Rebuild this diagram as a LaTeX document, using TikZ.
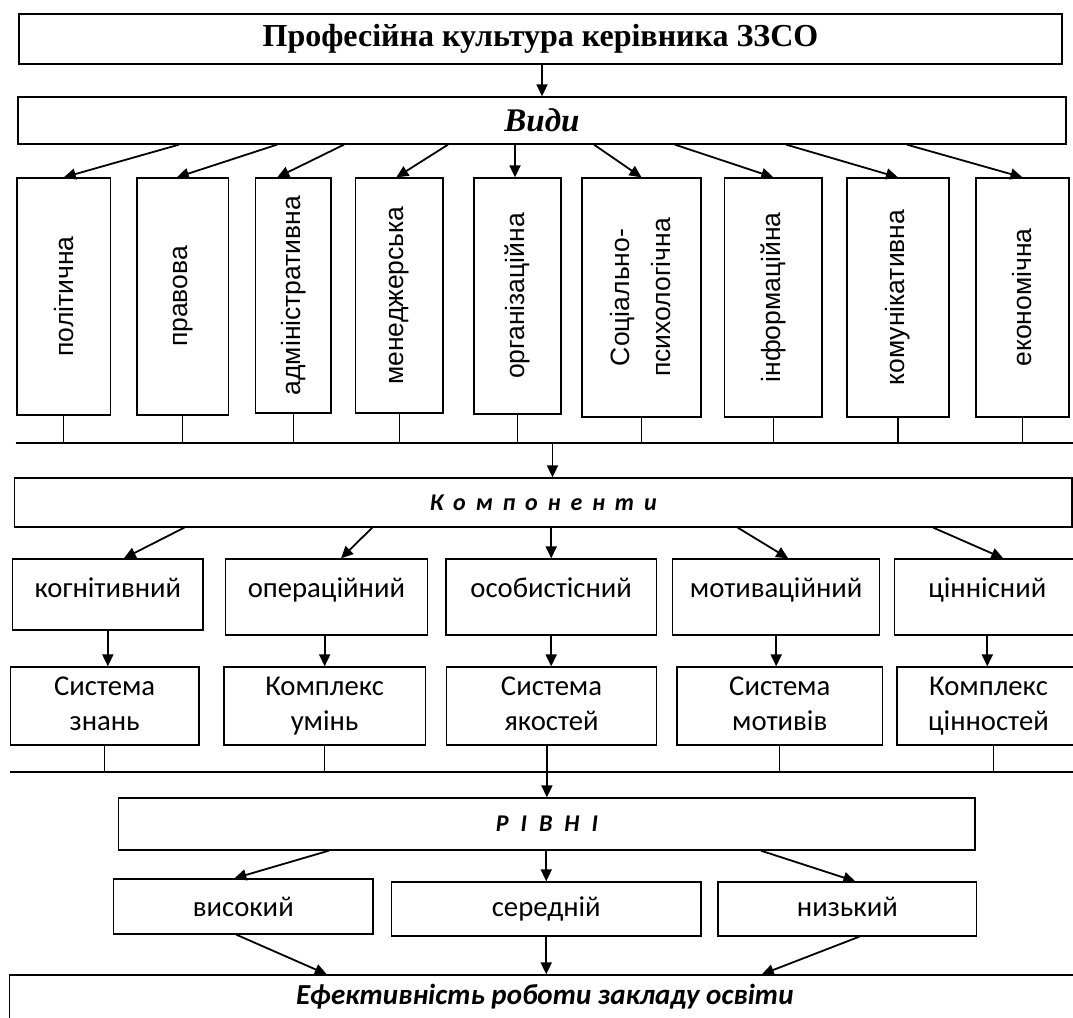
\documentclass[tikz,border=0pt]{standalone}
\usepackage{fontspec}
\usepackage{graphicx}
\setmainfont{Liberation Serif}
\newfontfamily\arialf{Liberation Sans}
\newfontfamily\calf{Carlito}
\usetikzlibrary{arrows.meta,calc}
\begin{document}
\begin{tikzpicture}[x=1pt,y=-1pt,
  bx/.style={draw, line width=1.3pt, inner sep=0pt, minimum width=#1},
  bx/.default=10pt,
  ttl/.style={font={\fontsize{32}{38}\selectfont\bfseries}},
  vidf/.style={font={\fontsize{33}{38}\selectfont\bfseries\itshape}},
  vbox/.style={font={\arialf\fontsize{26.5}{32}\selectfont}},
  cbox/.style={font={\calf\fontsize{28.7}{35}\selectfont}, align=center},
  cboxt/.style={cbox, text height=14pt, text depth=14pt},
  lvl/.style={cbox, text height=24.5pt, text depth=9.1pt},
  hdrk/.style={font={\calf\bfseries\itshape\fontsize{24}{29}\selectfont\spaceskip=0.41em\relax}},
  hdrr/.style={font={\calf\bfseries\itshape\fontsize{24}{29}\selectfont\spaceskip=0.5em\relax}},
  efff/.style={font={\calf\bfseries\itshape\fontsize{29}{34}\selectfont}},
  arr/.style={line width=1.8pt, -{Triangle[length=12pt,width=11pt]}},
  bus/.style={line width=2pt},
  stem/.style={line width=1.3pt}]
\useasboundingbox (0,0) rectangle (1073,1017);
\clip (0,0) rectangle (1073,1017);

% top
\node[bx=1043pt, minimum height=50pt, ttl] (title) at (540.5,39) {Професійна культура керівника ЗЗСО};
\node[bx=1048pt, minimum height=47pt, vidf] (vid) at (542,120.5) {Види};
\draw[arr] (title.south -| vid.north) -- (vid.north);

% kinds
\node[bx=93.5pt, minimum height=237pt, vbox] (pol) at (63.75,296.5) {\rotatebox{90}{політична}};
\node[bx=91.6pt, minimum height=237pt, vbox] (prav) at (182.8,296.5) {\rotatebox{90}{правова}};
\node[bx=75.5pt, minimum height=235pt, vbox] (adm) at (293.25,295.5) {\rotatebox{90}{адміністративна}};
\node[bx=87.3pt, minimum height=235pt, vbox] (men) at (399.35,295.5) {\rotatebox{90}{менеджерська}};
\node[bx=87pt, minimum height=236pt, vbox] (org) at (517.5,296) {\rotatebox{90}{організаційна}};
\node[bx=119pt, minimum height=239pt, vbox] (soc) at (641.5,297.5) {\rotatebox{90}{\fontsize{26.5}{41.6}\selectfont\begin{tabular}{@{}c@{}}Соціально-\\психологічна\end{tabular}}};
\node[bx=97.4pt, minimum height=239pt, vbox] (inf) at (773.3,297.5) {\rotatebox{90}{інформаційна}};
\node[bx=102pt, minimum height=239pt, vbox] (kom) at (898,297.5) {\rotatebox{90}{комунікативна}};
\node[bx=93pt, minimum height=239pt, vbox] (eko) at (1022.5,297.5) {\rotatebox{90}{економічна}};

\draw[arr] ([xshift=-363pt]vid.south) -- (pol.north);
\draw[arr] ([xshift=-265pt]vid.south) -- ([xshift=-6pt]prav.north);
\draw[arr] ([xshift=-198pt]vid.south) -- ([xshift=-16pt]adm.north);
\draw[arr] ([xshift=-94pt]vid.south) -- ([xshift=-3pt]men.north);
\draw[arr] ([xshift=-2.5pt]org.north |- vid.south) -- ([xshift=-2.5pt]org.north);
\draw[arr] ([xshift=52pt]vid.south) -- (soc.north);
\draw[arr] ([xshift=133pt]vid.south) -- (inf.north);
\draw[arr] ([xshift=244pt]vid.south) -- (kom.north);
\draw[arr] ([xshift=365pt]vid.south) -- (eko.north);

% bus 1
\coordinate (b1L) at (15.5,443);
\coordinate (b1R) at (1073,443);
\coordinate (b1k) at (552.5,443);
\draw[bus] (b1L) -- (b1R);
\foreach \n in {pol,prav,adm,men,org,soc,inf,kom,eko}
  \draw[stem] (\n.south) -- (\n.south |- b1L);

% components
\node[bx=1057.5pt, minimum height=49pt, hdrk] (komp) at (543.25,502.5) {К о м п о н е н т и};
\draw[arr] (b1k) -- (b1k |- komp.north);

\node[bx=190.3pt, minimum height=71pt, cbox, text height=16.5pt, text depth=11.5pt] (kog) at (107.85,594.5) {когнітивний};
\node[bx=201.8pt, minimum height=76pt, cboxt] (ope) at (326.4,597) {операційний};
\node[bx=210.4pt, minimum height=76pt, cboxt] (oso) at (551.2,597) {особистісний};
\node[bx=207pt, minimum height=76pt, cboxt] (mot) at (776.2,597) {мотиваційний};
\node[bx=185.4pt, minimum height=76pt, cboxt] (cin) at (987.3,597) {ціннісний};

\draw[arr] ([xshift=-359pt]komp.south) -- ([xshift=16pt]kog.north);
\draw[arr] ([xshift=-171pt]komp.south) -- ([xshift=14.6pt]ope.north);
\draw[arr] (oso.north |- komp.south) -- (oso.north);
\draw[arr] ([xshift=194.5pt]komp.south) -- ([xshift=12pt]mot.north);
\draw[arr] ([xshift=390pt]komp.south) -- ([xshift=16pt]cin.north);

\node[bx=188.7pt, minimum height=78pt, cbox] (sz) at (104.65,706) {Система\strut\\знань\strut};
\node[bx=201.3pt, minimum height=78pt, cbox] (ku) at (324.65,706) {Комплекс\strut\\умінь\strut};
\node[bx=209.8pt, minimum height=78pt, cbox] (sya) at (551.5,706) {Система\strut\\якостей\strut};
\node[bx=205.5pt, minimum height=78pt, cbox] (smo) at (779.75,706) {Система\strut\\мотивів\strut};
\node[bx=183pt, minimum height=78pt, cbox] (kc) at (988.5,706) {Комплекс\strut\\цінностей\strut};

\draw[arr] (kog.south) -- (kog.south |- sz.north);
\draw[arr] (ku.north |- ope.south) -- (ku.north);
\draw[arr] (oso.south) -- (oso.south |- sya.north);
\draw[arr] (mot.south) -- (mot.south |- smo.north);
\draw[arr] (cin.south) -- (cin.south |- kc.north);

% bus 2
\coordinate (b2L) at (10.3,772);
\coordinate (b2R) at (1073,772);
\draw[bus] (b2L) -- (b2R);
\foreach \n in {sz,ku,smo}
  \draw[stem] (\n.south) -- (\n.south |- b2L);
\draw[stem] ([xshift=5pt]kc.south) -- ([xshift=5pt]kc.south |- b2L);

% levels
\node[bx=856.2pt, minimum height=52pt, hdrr] (riv) at (546.9,824) {Р І В Н І};
\draw[arr] (sya.south -| riv.north) -- (riv.north);

\node[bx=259.4pt, minimum height=55pt, cbox, text height=24.5pt, text depth=4.1pt] (vys) at (243.3,906.5) {високий};
\node[bx=309.5pt, minimum height=54pt, lvl] (ser) at (546.25,909) {середній};
\node[bx=258.7pt, minimum height=54pt, lvl] (niz) at (847.35,909) {низький};

\draw[arr] ([xshift=-218pt]riv.south) -- ([xshift=-9pt]vys.north);
\draw[arr] (ser.north |- riv.south) -- (ser.north);
\draw[arr] ([xshift=214pt]riv.south) -- ([xshift=8pt]niz.north);

% effectiveness
\node[bx=1070.4pt, minimum height=46pt, efff] (eff) at (544.8,998) {Ефективність роботи закладу освіти\strut};
\draw[arr] ([xshift=-7pt]vys.south) -- ([xshift=-218pt]eff.north);
\draw[arr] (ser.south) -- (ser.south |- eff.north);
\draw[arr] ([xshift=12pt]niz.south) -- ([xshift=217pt]eff.north);
\end{tikzpicture}
\end{document}
